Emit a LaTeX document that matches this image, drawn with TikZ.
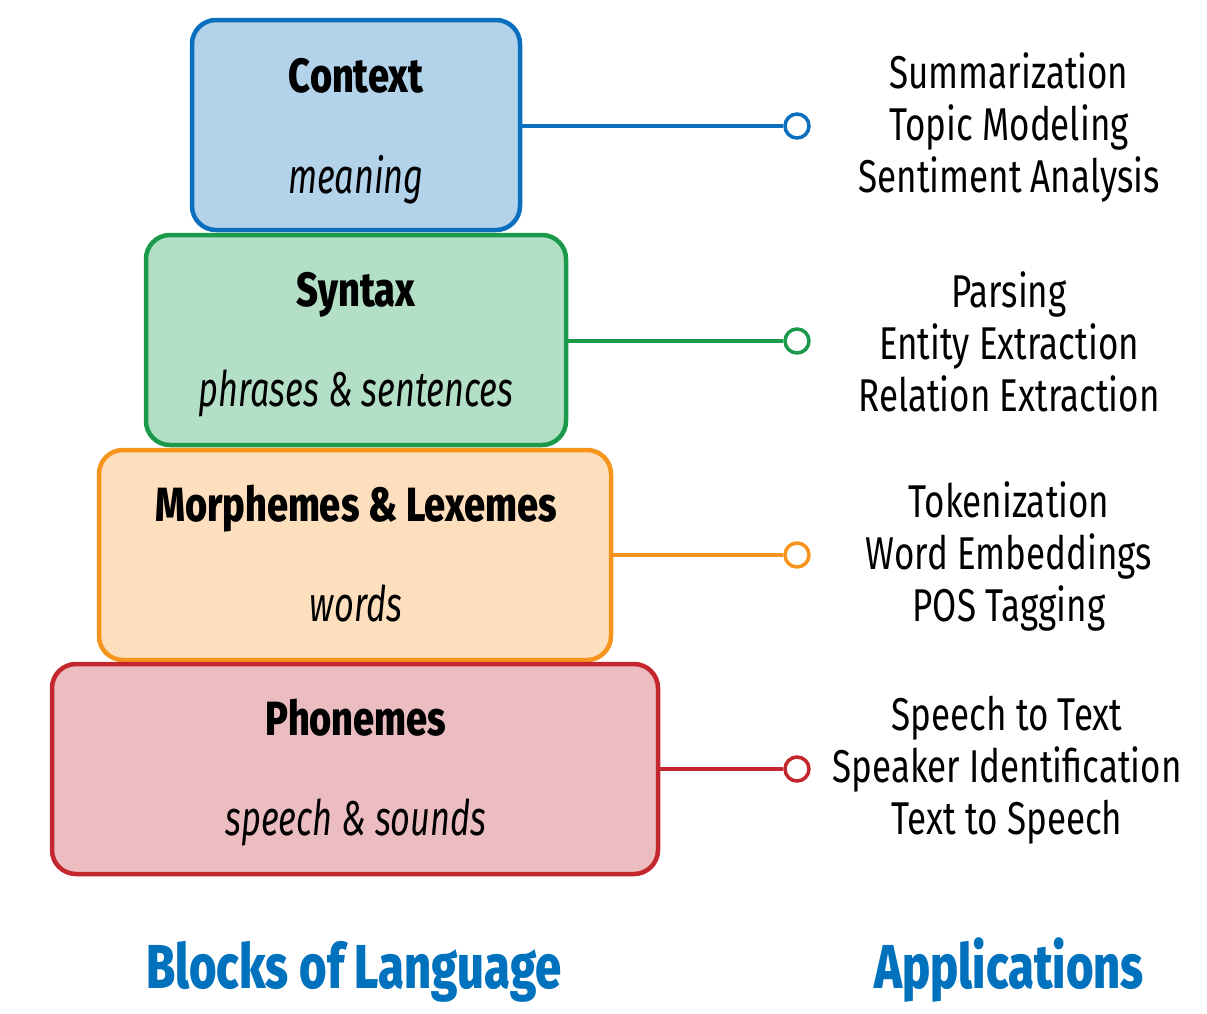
\documentclass[tikz,border=0pt]{standalone}
\usepackage{fontspec}
\setmainfont{Fira Sans}[FakeStretch=0.76]
\newfontfamily\titlefont{Fira Sans ExtraBold}[FakeStretch=0.79]
\newfontfamily\subfont{Fira Sans}[FakeStretch=0.7]
\newfontfamily\heavyfont{Fira Sans ExtraBold}[FakeStretch=0.76]
\definecolor{cblue}{HTML}{0B6FBE}
\definecolor{cbluefill}{HTML}{B3D3EA}
\definecolor{cgreen}{HTML}{1A9A4A}
\definecolor{cgreenfill}{HTML}{B3DFC6}
\definecolor{corange}{HTML}{F7941D}
\definecolor{corangefill}{HTML}{FDDFBD}
\definecolor{cred}{HTML}{C4262E}
\definecolor{credfill}{HTML}{EBBDC0}
\definecolor{labelblue}{HTML}{0071BC}
\begin{document}
\begin{tikzpicture}[x=1pt,y=-1pt,
  block/.style={draw, line width=4.5pt, rounded corners=24pt, minimum height=210pt, inner sep=0pt},
  title/.style={anchor=base, font=\fontsize{48}{56}\titlefont},
  sub/.style={anchor=base, font=\fontsize{49}{56}\subfont\itshape},
  conn/.style={line width=4.5pt},
  endc/.style={circle, draw, line width=3.5pt, fill=white, minimum size=24pt, inner sep=0pt},
  apps/.style={align=center, font=\fontsize{46}{52}\selectfont},
  bottom/.style={anchor=base, text=labelblue, font=\fontsize{62}{70}\heavyfont}
]
\useasboundingbox (0,0) rectangle (1207,1013);
% boxes
\node[block, draw=cblue, fill=cbluefill, minimum width=328pt] (ctx) at (356,125) {};
\node[block, draw=cgreen, fill=cgreenfill, minimum width=420pt] (syn) at (356,340) {};
\node[block, draw=corange, fill=corangefill, minimum width=512pt] (mor) at (355,555) {};
\node[block, draw=cred, fill=credfill, minimum width=606pt] (pho) at (355,769) {};
% titles
\node[title] (ctxt) at (356,92) {Context};
\node[sub] (ctxs) at (356,193) {meaning};
\node[title] (synt) at (356,306) {Syntax};
\node[sub] (syns) at (356,406) {phrases \& sentences};
\node[title] (mort) at (356,521) {Morphemes \& Lexemes};
\node[sub] (mors) at (356,621) {words};
\node[title] (phot) at (356,735) {Phonemes};
\node[sub] (phos) at (356,835) {speech \& sounds};
% connectors
\node[endc, draw=cblue] (c1) at (797,126) {};
\node[endc, draw=cgreen] (c2) at (797,341) {};
\node[endc, draw=corange] (c3) at (797,555) {};
\node[endc, draw=cred] (c4) at (797,769) {};
\draw[conn, cblue] (ctx.east |- c1) -- (c1.west);
\draw[conn, cgreen] (syn.east |- c2) -- (c2.west);
\draw[conn, corange] (mor.east |- c3) -- (c3.west);
\draw[conn, cred] (pho.east |- c4) -- (c4.west);
% applications
\node[apps] (a1) at (1009,127) {Summarization\\Topic Modeling\\Sentiment Analysis};
\node[apps] (a2) at (1009,342) {Parsing\\Entity Extraction\\Relation Extraction};
\node[apps] (a3) at (1009,556) {Tokenization\\Word Embeddings\\POS Tagging};
\node[apps] (a4) at (1007,770) {Speech to Text\\Speaker Identification\\Text to Speech};
% bottom labels
\node[bottom] (bl) at (354,988) {Blocks of Language};
\node[bottom] (ap) at (1009,988) {Applications};
\end{tikzpicture}
\end{document}
